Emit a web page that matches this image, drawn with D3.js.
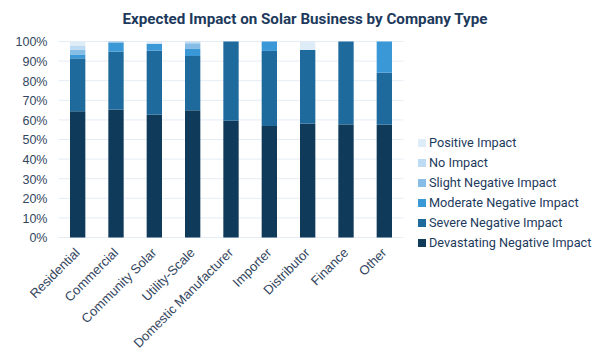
<!DOCTYPE html>
<html lang="en">
<head>
    <meta charset="UTF-8">
    <title>Expected Impact on Solar Business by Company Type</title>
    <script src="https://d3js.org/d3.v7.min.js"></script>
    <style>
        body {
            margin: 0;
            background: #fff;
            font-family: Roboto, "Noto Sans", Arial, sans-serif;
        }
        .title {
            font-weight: bold;
            font-size: 15.2px;
            fill: #1d3a5c;
        }
        .tick text {
            fill: #34465e;
            font-size: 12.5px;
        }
        .x-axis .tick text {
            font-size: 13px;
        }
        .legend text {
            fill: #1d3a5c;
            font-size: 12.7px;
        }
    </style>
</head>
<body>
    <svg id="chart" width="612" height="354"></svg>

    <script>
        // Company types along the x axis
        const categories = ["Residential", "Commercial", "Community Solar", "Utility-Scale",
            "Domestic Manufacturer", "Importer", "Distributor", "Finance", "Other"];

        // Impact levels, bottom of the stack first
        const seriesNames = ["Devastating Negative Impact", "Severe Negative Impact",
            "Moderate Negative Impact", "Slight Negative Impact", "No Impact", "Positive Impact"];
        const seriesColors = ["#0f3a5a", "#1e6a9d", "#3b98d7", "#86bde6", "#bddbf2", "#deecf8"];

        // Share of respondents (%) per category, one array per impact level
        const devastating = [64.4, 65.2, 62.7, 64.9, 59.6, 56.9, 58.1, 57.7, 57.6];
        const severe      = [27.0, 29.6, 32.6, 27.7, 40.4, 38.3, 37.6, 42.3, 26.5];
        const moderate    = [ 2.0,  4.6,  3.6,  3.6,  0.0,  4.8,  0.0,  0.0, 15.9];
        const slight      = [ 2.3,  0.6,  0.0,  2.9,  0.0,  0.0,  0.0,  0.0,  0.0];
        const noImpact    = [ 2.0,  0.0,  0.0,  0.9,  0.0,  0.0,  0.0,  0.0,  0.0];
        const positive    = [ 2.3,  0.0,  1.1,  0.0,  0.0,  0.0,  4.3,  0.0,  0.0];

        const yTicks = [0, 10, 20, 30, 40, 50, 60, 70, 80, 90, 100];

        const seriesValues = [devastating, severe, moderate, slight, noImpact, positive];
        const rows = categories.map((c, i) => {
            const row = { category: c };
            seriesNames.forEach((s, j) => row[s] = seriesValues[j][i]);
            return row;
        });

        const svg = d3.select("#chart");
        const margin = { left: 58.5, right: 403.5, top: 41.5, bottom: 237.5 };

        const x = d3.scaleBand()
            .domain(categories)
            .range([margin.left, margin.right])
            .paddingInner(0.6)
            .paddingOuter(0.3);

        const y = d3.scaleLinear()
            .domain([0, 100])
            .range([margin.bottom, margin.top]);

        const color = d3.scaleOrdinal().domain(seriesNames).range(seriesColors);

        // Title
        svg.append("text")
            .attr("class", "title")
            .attr("x", 305)
            .attr("y", 24)
            .attr("text-anchor", "middle")
            .text("Expected Impact on Solar Business by Company Type");

        // Gridlines
        svg.append("g")
            .selectAll("line")
            .data(yTicks)
            .join("line")
            .attr("x1", margin.left)
            .attr("x2", margin.right)
            .attr("y1", d => y(d))
            .attr("y2", d => y(d))
            .attr("stroke", "#e4edf6")
            .attr("stroke-width", 1);

        // Y axis
        const yAxis = svg.append("g")
            .attr("transform", `translate(${margin.left - 11},0)`)
            .call(d3.axisLeft(y).tickValues(yTicks).tickSize(0).tickPadding(0)
                .tickFormat(d => d + "%"));
        yAxis.select(".domain").remove();
        yAxis.selectAll(".tick text").attr("dy", "0.35em");

        // Stacked bars
        const stack = d3.stack().keys(seriesNames)(rows);
        svg.append("g")
            .selectAll("g")
            .data(stack)
            .join("g")
            .attr("fill", d => color(d.key))
            .selectAll("rect")
            .data(d => d.filter(p => p[1] - p[0] > 0))
            .join("rect")
            .attr("x", d => x(d.data.category))
            .attr("width", x.bandwidth())
            .attr("y", d => y(d[1]))
            .attr("height", d => y(d[0]) - y(d[1]));

        // X axis
        const xAxis = svg.append("g")
            .attr("class", "x-axis")
            .attr("transform", `translate(0,${margin.bottom})`)
            .call(d3.axisBottom(x).tickSize(0).tickPadding(0));
        xAxis.select(".domain").remove();
        xAxis.selectAll(".tick text")
            .attr("text-anchor", "end")
            .attr("dy", "0")
            .attr("transform", "translate(3,16) rotate(-45)");

        // Legend (top entry is Positive Impact)
        const legend = svg.append("g")
            .attr("class", "legend")
            .selectAll("g")
            .data(seriesNames.slice().reverse())
            .join("g")
            .attr("transform", (d, i) => `translate(418,${139 + i * 20})`);
        legend.append("rect")
            .attr("width", 8)
            .attr("height", 8)
            .attr("fill", d => color(d));
        legend.append("text")
            .attr("x", 11)
            .attr("y", 4)
            .attr("dy", "0.35em")
            .text(d => d);
    </script>
</body>
</html>
